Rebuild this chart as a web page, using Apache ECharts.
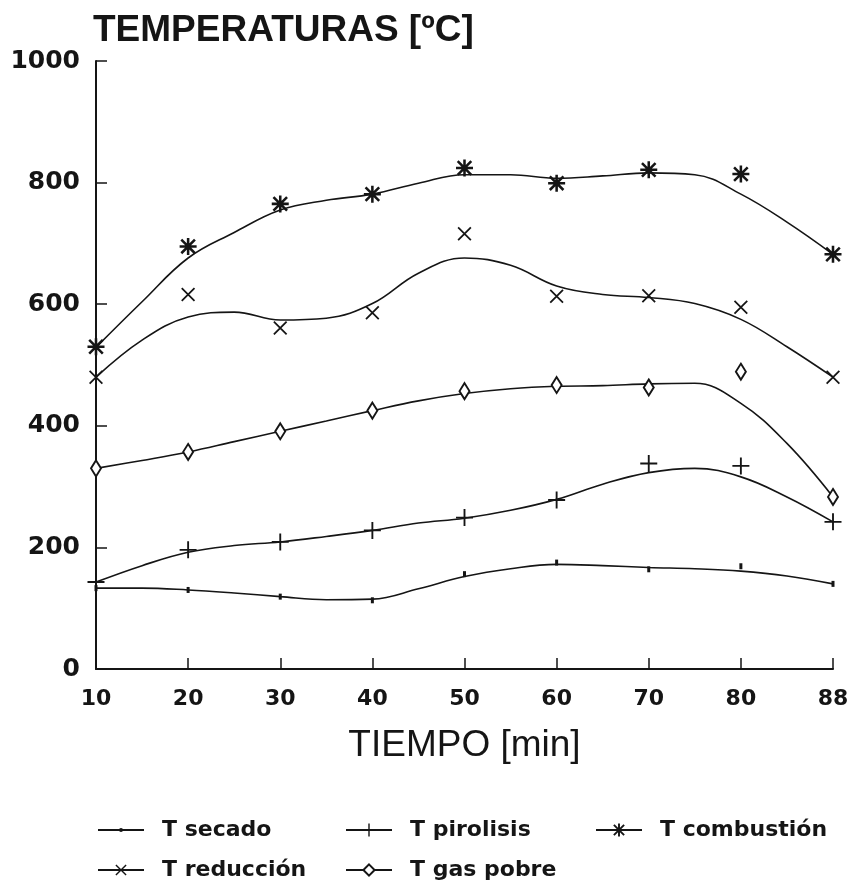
<!DOCTYPE html>
<html>
<head>
<meta charset="utf-8">
<script src="https://cdn.jsdelivr.net/npm/echarts@6/dist/echarts.min.js"></script>
<style>
html, body { margin: 0; padding: 0; background: #ffffff; }
#tempChart { width: 856px; height: 886px; }
</style>
</head>
<body>
<div id="tempChart"></div>
<script>
// eje x: tiempo [min], posiciones equiespaciadas
const tiempoLabels = ["10", "20", "30", "40", "50", "60", "70", "80", "88"]
const tiempoIdx = [0, 1, 2, 3, 4, 5, 6, 7, 8]
// posiciones de la curva ajustada (medio paso)
const curvaIdx = [0, 0.5, 1, 1.5, 2, 2.5, 3, 3.5, 4, 4.5, 5, 5.5, 6, 6.5, 7, 7.5, 8]

// medidas (puntos)
const secado = [133, 130, 119, 113, 156, 175, 164, 169, 140]
const pirolisis = [143, 196, 209, 228, 249, 278, 338, 334, 242]
const combustion = [530, 695, 765, 781, 824, 799, 821, 814, 682]
const reduccion = [480, 616, 561, 586, 716, 613, 614, 595, 480]
const gasPobre = [330, 357, 391, 425, 457, 467, 463, 489, 283]

// curvas ajustadas
const secadoCurva = [133, 133, 130, 125, 119, 114, 115, 132, 152, 165, 172, 170, 167, 165, 161, 153, 140]
const pirolisisCurva = [143, 170, 192, 203, 209, 218, 228, 240, 248, 261, 279, 304, 323, 330, 316, 283, 242]
const combustionCurva = [529, 604, 676, 718, 755, 771, 781, 799, 813, 813, 807, 811, 816, 813, 781, 735, 682]
const reduccionCurva = [480, 541, 579, 587, 574, 577, 601, 651, 676, 664, 630, 616, 611, 601, 575, 530, 480]
const gasPobreCurva = [330, 343, 357, 374, 391, 408, 425, 441, 453, 461, 465, 466, 469, 470, 437, 371, 283]

const tempTicks = [0, 200, 400, 600, 800, 1000]

const ink = "#151515"
const symPlus = "path://M8.9,0h2.2v20h-2.2zM0,8.9h20v2.2h-20z"
const symCross = "path://M2.2,0.5L19.5,17.8L17.8,19.5L0.5,2.2zM17.8,0.5L19.5,2.2L2.2,19.5L0.5,17.8z"
const symStar = "path://M8.5,0h3v20h-3zM0,8.5h20v3h-20zM3.06,0.94L19.06,16.94L16.94,19.06L0.94,3.06zM16.94,0.94L19.06,3.06L3.06,19.06L0.94,16.94z"

function drawChart() {
	let myChart = echarts.init(document.getElementById("tempChart"))

	const defs = [
		{ name: "T secado", pts: secado, curva: secadoCurva, symbol: "rect", legendSymbol: "circle", size: [3, 6], legendH: 5 },
		{ name: "T pirolisis", pts: pirolisis, curva: pirolisisCurva, symbol: symPlus, size: 17, legendH: 16 },
		{ name: "T combustión", pts: combustion, curva: combustionCurva, symbol: symStar, size: 17, legendH: 16 },
		{ name: "T reducción", pts: reduccion, curva: reduccionCurva, symbol: symCross, size: 14, legendH: 14 },
		{ name: "T gas pobre", pts: gasPobre, curva: gasPobreCurva, symbol: "emptyDiamond", size: [10, 16], legendH: 14 },
	]

	let series = []
	defs.forEach((d) => {
		let empty = d.symbol === "emptyDiamond"
		series.push({
			name: d.name,
			type: "line",
			smooth: 0.4,
			symbol: d.legendSymbol || d.symbol,
			symbolSize: d.size,
			showSymbol: false,
			lineStyle: { color: ink, width: 1.6 },
			itemStyle: { color: ink, borderColor: ink, borderWidth: empty ? 1.6 : 0 },
			data: curvaIdx.map((x, i) => [x, d.curva[i]]),
			z: 2,
		})
		series.push({
			name: d.name,
			type: "scatter",
			symbol: d.symbol,
			symbolSize: d.size,
			itemStyle: {
				color: ink,
				borderColor: ink,
				borderWidth: empty ? 1.6 : 0,
				opacity: 1,
			},
			data: tiempoIdx.map((x, i) => [x, d.pts[i]]),
			z: 3,
		})
	})

	const legendPos = [
		{ left: 92, top: 813 },
		{ left: 340, top: 813 },
		{ left: 590, top: 813 },
		{ left: 92, top: 853 },
		{ left: 340, top: 853 },
	]

	let option = {
		animation: false,
		backgroundColor: "#ffffff",
		title: {
			text: "TEMPERATURAS [ºC]",
			left: 88,
			top: 7,
			textStyle: {
				fontFamily: "Liberation Sans",
				fontWeight: "bold",
				fontSize: 37,
				color: ink,
			},
		},
		legend: defs.map((d, i) => ({
			data: [d.name],
			left: legendPos[i].left,
			top: legendPos[i].top,
			itemWidth: 46,
			itemHeight: d.legendH,
			selectedMode: false,
			textStyle: {
				fontFamily: "DejaVu Sans",
				fontWeight: "bold",
				fontSize: 22,
				lineHeight: 24,
				color: ink,
				padding: [0, 0, 0, 13],
			},
		})),
		grid: {
			left: 96,
			right: 23,
			top: 61,
			bottom: 217,
			containLabel: false,
		},
		xAxis: {
			type: "value",
			min: 0,
			max: 8,
			interval: 1,
			name: "TIEMPO [min]",
			nameLocation: "middle",
			nameGap: 58,
			nameTextStyle: {
				fontFamily: "Liberation Sans",
				fontSize: 37,
				color: ink,
			},
			axisLine: { show: true, lineStyle: { color: ink, width: 2 } },
			axisTick: { show: true, inside: true, length: 11, lineStyle: { color: ink, width: 1.5 } },
			axisLabel: {
				margin: 19,
				fontFamily: "DejaVu Sans",
				fontWeight: "bold",
				fontSize: 22,
				color: ink,
				formatter: (v) => tiempoLabels[v],
			},
			splitLine: { show: false },
		},
		yAxis: {
			type: "value",
			min: tempTicks[0],
			max: tempTicks[tempTicks.length - 1],
			interval: 200,
			axisLine: { show: true, lineStyle: { color: ink, width: 2 } },
			axisTick: { show: true, inside: true, length: 11, lineStyle: { color: ink, width: 1.5 } },
			axisLabel: {
				margin: 16,
				fontFamily: "DejaVu Sans",
				fontWeight: "bold",
				fontSize: 25,
				color: ink,
				formatter: (v) => String(v),
			},
			splitLine: { show: false },
		},
		series: series,
	}
	myChart.setOption(option)
}

drawChart()
</script>
</body>
</html>
